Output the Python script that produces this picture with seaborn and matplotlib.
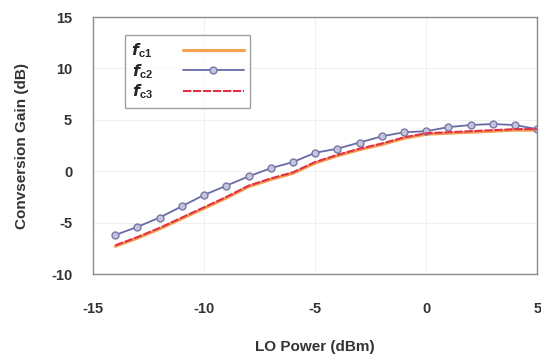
import numpy as np
import pandas as pd
import matplotlib
matplotlib.use("Agg")
import matplotlib.pyplot as plt
import seaborn as sns

lo_power = [-14, -13, -12, -11, -10, -9, -8, -7, -6, -5, -4, -3, -2, -1, 0, 1, 2, 3, 4, 5]
gain_fc1 = [-7.3, -6.5, -5.6, -4.6, -3.6, -2.6, -1.5, -0.8, -0.2, 0.8, 1.5, 2.1, 2.6, 3.2, 3.6, 3.7, 3.8, 3.9, 4.0, 4.0]
gain_fc2 = [-6.2, -5.4, -4.5, -3.4, -2.3, -1.4, -0.5, 0.3, 0.9, 1.8, 2.2, 2.8, 3.4, 3.8, 3.9, 4.3, 4.5, 4.6, 4.5, 4.1]
gain_fc3 = [-7.2, -6.4, -5.5, -4.5, -3.5, -2.5, -1.4, -0.7, -0.1, 0.9, 1.6, 2.2, 2.7, 3.3, 3.7, 3.8, 3.9, 4.0, 4.1, 4.1]
labels = [r"$\boldsymbol{f}_{\mathbf{c1}}$", r"$\boldsymbol{f}_{\mathbf{c2}}$", r"$\boldsymbol{f}_{\mathbf{c3}}$"]
x_ticks = [-15, -10, -5, 0, 5]
y_ticks = [-10, -5, 0, 5, 10, 15]

sns.set_theme(style="white")
plt.rcParams['font.family'] = ['Liberation Sans', 'DejaVu Sans']
plt.rcParams['mathtext.fontset'] = 'custom'
plt.rcParams['mathtext.it'] = 'Liberation Sans:italic:bold'
plt.rcParams['mathtext.bf'] = 'Liberation Sans:bold'
plt.rcParams['mathtext.rm'] = 'Liberation Sans'

fig = plt.figure(figsize=(5.41, 3.56), dpi=100)
ax = fig.add_axes([0.172, 0.230, 0.821, 0.722])

df1 = pd.DataFrame({"x": lo_power, "y": gain_fc1})
df2 = pd.DataFrame({"x": lo_power, "y": gain_fc2})
df3 = pd.DataFrame({"x": lo_power, "y": gain_fc3})

sns.lineplot(data=df1, x="x", y="y", ax=ax, color="#f2a24e", linewidth=2.2, label=labels[0])
sns.lineplot(data=df2, x="x", y="y", ax=ax, color="#6a6aa8", linewidth=1.3,
             marker="o", markersize=5, markerfacecolor="#c4c4dc", markeredgecolor="#7878a8",
             markeredgewidth=1.0, label=labels[1])
sns.lineplot(data=df3, x="x", y="y", ax=ax, color="#e0304a", linewidth=1.5, linestyle=(0, (4, 0.8)),
             label=labels[2])

ax.set_xlim(-15, 5)
ax.set_ylim(-10, 15)
ax.set_xticks(x_ticks)
ax.set_yticks(y_ticks)
ax.set_xticklabels([str(t) for t in x_ticks], fontsize=10.5, fontweight="bold", color="#333333")
ax.set_yticklabels([str(t) for t in y_ticks], fontsize=10.5, fontweight="bold", color="#333333")
ax.tick_params(axis="both", direction="in", length=4, width=0.8, color="#888888")
ax.tick_params(axis="x", pad=20)
ax.tick_params(axis="y", pad=15)
ax.grid(True, color="#f0f0f0", linewidth=0.8)
for s in ax.spines.values():
    s.set_color("#8a8a8a")
    s.set_linewidth(1.0)

ax.set_xlabel("LO Power (dBm)", fontsize=11, fontweight="bold", color="#333333", labelpad=17)
ax.set_ylabel("Convsersion Gain (dB)", fontsize=11, fontweight="bold", color="#333333", labelpad=16)

leg = ax.legend(loc="upper left", bbox_to_anchor=(0.072, 0.93), borderaxespad=0, frameon=True,
                fancybox=False, edgecolor="#8a8a8a", markerfirst=False, handlelength=3.8, numpoints=1,
                fontsize=11.5, labelspacing=0.12, borderpad=0.4, handletextpad=1.9)
leg.get_frame().set_linewidth(1.0)

fig.savefig("out.png", dpi=100)
